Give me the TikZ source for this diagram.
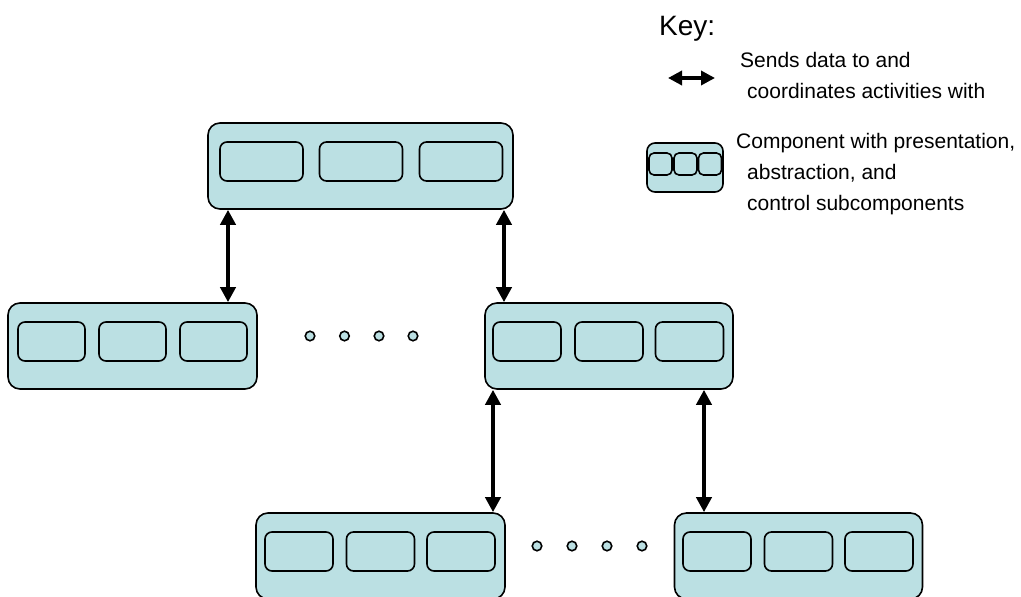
\documentclass[tikz,border=0pt]{standalone}
\usepackage{fontspec}
\setmainfont{Liberation Sans}
\usetikzlibrary{arrows.meta}
\definecolor{compfill}{RGB}{187,224,227}
\begin{document}
\begin{tikzpicture}[x=1pt,y=-1pt,
  outerbox/.style={draw=black,fill=compfill,line width=1.6pt,rounded corners=12pt,rectangle,inner sep=0pt,minimum height=86pt},
  innerbox/.style={draw=black,fill=compfill,line width=1.6pt,rounded corners=7pt,rectangle,inner sep=0pt,minimum height=39pt},
  dotc/.style={draw=black,fill=compfill,line width=1.6pt,circle,inner sep=0pt,minimum size=9.5pt},
  link/.style={line width=3.8pt,{Triangle[length=15pt,width=15pt]}-{Triangle[length=15pt,width=15pt]}},
  keytxt/.style={anchor=base west,inner sep=0pt,font=\fontsize{21}{25}\selectfont}
]
\useasboundingbox (0,0) rectangle (1021,597);
% top component
\node[outerbox,minimum width=305pt] (top) at (360.5,166) {};
\node[innerbox,minimum width=83pt] (top1) at (261.5,161.5) {};
\node[innerbox,minimum width=83pt] (top2) at (361,161.5) {};
\node[innerbox,minimum width=83pt] (top3) at (461,161.5) {};
% middle left
\node[outerbox,minimum width=249pt] (ml) at (132.5,346) {};
\node[innerbox,minimum width=67pt] (ml1) at (51.5,341.5) {};
\node[innerbox,minimum width=67pt] (ml2) at (132.5,341.5) {};
\node[innerbox,minimum width=67pt] (ml3) at (213.5,341.5) {};
% middle right
\node[outerbox,minimum width=248pt] (mr) at (609,346) {};
\node[innerbox,minimum width=68pt] (mr1) at (527,341.5) {};
\node[innerbox,minimum width=68pt] (mr2) at (609,341.5) {};
\node[innerbox,minimum width=68pt] (mr3) at (689.5,341.5) {};
% bottom left
\node[outerbox,minimum width=249pt] (bl) at (380.5,556) {};
\node[innerbox,minimum width=68pt] (bl1) at (299,551.5) {};
\node[innerbox,minimum width=68pt] (bl2) at (380.5,551.5) {};
\node[innerbox,minimum width=68pt] (bl3) at (461,551.5) {};
% bottom right
\node[outerbox,minimum width=248pt] (br) at (798.5,556) {};
\node[innerbox,minimum width=68pt] (br1) at (717,551.5) {};
\node[innerbox,minimum width=68pt] (br2) at (798.5,551.5) {};
\node[innerbox,minimum width=68pt] (br3) at (879,551.5) {};
% dots
\node[dotc] (d1) at (310,336) {};
\node[dotc] (d2) at (344.5,336) {};
\node[dotc] (d3) at (379,336) {};
\node[dotc] (d4) at (413,336) {};
\node[dotc] (d5) at (537,546) {};
\node[dotc] (d6) at (572,546) {};
\node[dotc] (d7) at (607,546) {};
\node[dotc] (d8) at (642,546) {};
% connectors
\coordinate (xa) at (228,0);
\coordinate (xb) at (504,0);
\coordinate (xc) at (493,0);
\coordinate (xd) at (704,0);
\draw[link] (top.south -| xa) -- (ml.north -| xa);
\draw[link] (top.south -| xb) -- (mr.north -| xb);
\draw[link] (mr.south -| xc) -- (bl.north -| xc);
\draw[link] (mr.south -| xd) -- (br.north -| xd);
% key
\node[anchor=base west,inner sep=0pt,font=\fontsize{28}{32}\selectfont] (key) at (659,35) {Key:};
\coordinate (ka) at (668,78);
\coordinate (kb) at (715,78);
\draw[line width=3.4pt,{Triangle[length=14pt,width=14pt]}-{Triangle[length=14pt,width=14pt]}] (ka) -- (kb);
\node[keytxt] (k1) at (740,67) {Sends data to and};
\node[keytxt] (k2) at (747,98) {coordinates activities with};
\node[draw=black,fill=compfill,line width=1.6pt,rounded corners=8pt,rectangle,inner sep=0pt,minimum width=76pt,minimum height=49pt] (kc) at (685,167.5) {};
\node[draw=black,fill=compfill,line width=1.6pt,rounded corners=5pt,rectangle,inner sep=0pt,minimum width=23pt,minimum height=22pt] (kc1) at (660.5,164) {};
\node[draw=black,fill=compfill,line width=1.6pt,rounded corners=5pt,rectangle,inner sep=0pt,minimum width=23pt,minimum height=22pt] (kc2) at (685.5,164) {};
\node[draw=black,fill=compfill,line width=1.6pt,rounded corners=5pt,rectangle,inner sep=0pt,minimum width=23pt,minimum height=22pt] (kc3) at (710,164) {};
\node[keytxt] (k3) at (736,148) {Component with presentation,};
\node[keytxt] (k4) at (747,179) {abstraction, and};
\node[keytxt] (k5) at (747,210) {control subcomponents};
\end{tikzpicture}
\end{document}
